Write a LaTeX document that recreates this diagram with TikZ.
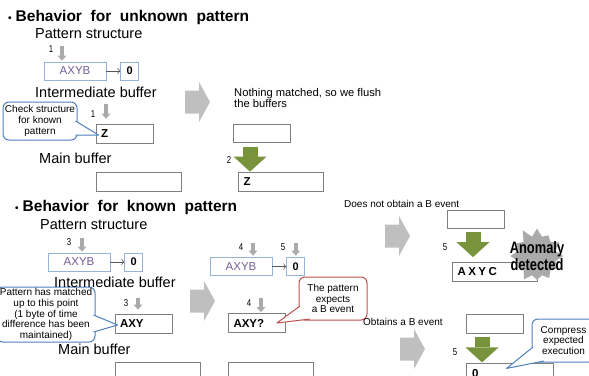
\documentclass[tikz,border=0pt]{standalone}
\usepackage{fontspec}
\setmainfont{Liberation Sans}
\newfontfamily\narrowsans[FakeStretch=0.78]{Liberation Sans}
\newfontfamily\titlesans[WordSpace=2.0]{Liberation Sans}
\usetikzlibrary{arrows.meta, positioning, shapes.symbols}

\definecolor{patblue}{RGB}{149,179,215}
\definecolor{calloutblue}{RGB}{79,129,189}
\definecolor{calloutred}{RGB}{192,80,77}
\definecolor{boxgray}{RGB}{127,127,127}
\definecolor{arrowgray}{RGB}{191,191,191}
\definecolor{ptrgray}{RGB}{170,170,170}
\definecolor{flushgreen}{RGB}{119,147,60}
\definecolor{pattext}{RGB}{112,95,150}
\definecolor{burstgray}{RGB}{170,170,170}

\tikzstyle{heading} = [anchor=west, inner sep=0pt, font=\titlesans\bfseries\fontsize{15.5}{18}\selectfont]
\tikzstyle{bufname} = [anchor=west, inner sep=0pt, font=\fontsize{14.5}{17}\selectfont]
\tikzstyle{note} = [anchor=west, inner sep=0pt, align=left, font=\fontsize{10}{12}\selectfont]
\tikzstyle{stepnum} = [inner sep=0pt, font=\narrowsans\fontsize{10}{10}\selectfont]
\tikzstyle{patbox} = [rectangle, draw=patblue, line width=0.8pt, minimum width=62pt, minimum height=18pt, inner sep=0pt, text=pattext, font=\fontsize{11.5}{12}\selectfont]
\tikzstyle{zerobox} = [rectangle, draw=patblue, line width=0.8pt, minimum width=18pt, minimum height=18pt, inner sep=0pt, font=\bfseries\fontsize{11}{12}\selectfont]
\tikzstyle{bufshort} = [rectangle, draw=boxgray, line width=0.8pt, minimum width=57pt, minimum height=19pt, inner xsep=5pt, inner ysep=0pt, text width=47pt, align=left, font=\bfseries\fontsize{11.5}{12}\selectfont]
\tikzstyle{bufwide} = [bufshort, minimum width=85pt, text width=75pt]
\tikzstyle{callout} = [rectangle, rounded corners=6pt, draw=calloutblue, line width=1pt, fill=white, align=center, inner sep=1pt, font=\fontsize{10}{10.8}\selectfont]
\tikzstyle{pointer} = [line width=4.5pt, draw=ptrgray, -{Triangle[width=9pt,length=5pt,line width=0pt]}]
\tikzstyle{flush} = [line width=15pt, draw=flushgreen, -{Triangle[width=33pt,length=15pt,line width=0pt]}]
\tikzstyle{link} = [draw=black!65, line width=0.6pt, -{To[length=3pt]}]

% pointer of a callout: colour, base, tip, base, inner point
\newcommand{\calloutptr}[5]{\fill[white] #2 -- #3 -- #4 -- #5 -- cycle;
  \draw[#1, line width=1pt, line join=round] #2 -- #3 -- #4;}
% big grey step arrow, given the middle of its left side
\newcommand{\bigarrow}[1]{\fill[arrowgray] #1 ++(0,-11.5) -- ++(14,0) -- ++(0,-8.5)
  -- ++(11,20) -- ++(-11,20) -- ++(0,-8.5) -- ++(-14,0) -- cycle;}

\begin{document}
\begin{tikzpicture}[x=1pt, y=-1pt]
\clip (0,0) rectangle (589,375);
\fill[white] (0,0) rectangle (589,375);

% Behavior for unknown pattern
\node (u-title) [heading] at (8,17) {{\fontsize{10}{10}\selectfont\textbullet}\hspace{4pt}Behavior for unknown pattern};
\node (u-ps-name) [bufname] at (35,34) {Pattern structure};
\node (u-pat) [patbox] at (75,71) {AXYB};
\node (u-zero) [zerobox, right=14pt of u-pat] {0};
\node (u-ib-name) [bufname] at (35,92) {Intermediate buffer};
\node (u-ib) [bufshort] at (124.5,133.5) {Z};
\node (u-mb-name) [bufname] at (39,158) {Main buffer};
\node (u-mb) [bufwide, below=29pt of u-ib.south west, anchor=north west] {};

\node (u-check) [callout, minimum width=74pt, minimum height=38pt] at (40,121) {Check structure\\for known\\pattern};
\calloutptr{calloutblue}{(75.5,121)}{([xshift=3pt,yshift=-1.5pt]u-ib.west)}{(75.5,135)}{(72,128)}

\draw [link] (u-pat) -- (u-zero);
\draw [pointer] ([xshift=-13pt,yshift=16pt]u-pat.north) -- ([xshift=-13pt,yshift=1pt]u-pat.north);
\draw [pointer] ([xshift=-18.5pt,yshift=20pt]u-ib.north) -- ([xshift=-18.5pt,yshift=5pt]u-ib.north);
\node (u-one-a) [stepnum] at (51,49) {1};
\node (u-one-b) [stepnum] at (93,114) {1};

\bigarrow{(185,102)}

% flushed buffers
\node (u-note) [note, font=\fontsize{11.2}{11}\selectfont] at (234,97.5) {Nothing matched, so we flush\\the buffers};
\node (u-ib2) [bufshort, minimum height=18pt] at (262,133.5) {};
\node (u-mb2) [bufwide] at (281,181.5) {Z};
\draw [flush] ([xshift=-12pt,yshift=-4pt]u-ib2.south) -- ([xshift=-31pt]u-mb2.north);
\node (u-two) [stepnum] at (229,160) {2};

% Behavior for known pattern
\node (k-title) [heading] at (15,207) {{\fontsize{10}{10}\selectfont\textbullet}\hspace{4pt}Behavior for known pattern};
\node (k-ps-name) [bufname] at (40,225) {Pattern structure};
\node (k-pat) [patbox] at (79,262) {AXYB};
\node (k-zero) [zerobox, right=14pt of k-pat] {0};
\node (k-match) [callout, minimum width=98pt, minimum height=55pt] at (46,314.5) {Pattern has matched\\up to this point\\(1 byte of time\\difference has been\\maintained)};
\node (k-ib-name) [bufname] at (54,282) {Intermediate buffer};
\node (k-ib) [bufshort] at (143.5,323.5) {AXY};
\node (k-mb-name) [bufname] at (58,349) {Main buffer};
\node (k-mb) [bufwide, below=29pt of k-ib.south west, anchor=north west] {};
\calloutptr{calloutblue}{(93.5,315)}{([xshift=3pt,yshift=-1.5pt]k-ib.west)}{(93.5,332)}{(90,323)}

\draw [link] (k-pat) -- (k-zero);
\draw [pointer] ([xshift=3pt,yshift=15pt]k-pat.north) -- ([xshift=3pt,yshift=1pt]k-pat.north);
\draw [pointer] ([xshift=-5.5pt,yshift=16pt]k-ib.north) -- ([xshift=-5.5pt,yshift=4pt]k-ib.north);
\node (k-three-a) [stepnum] at (69,242) {3};
\node (k-three-b) [stepnum] at (126,303) {3};

\bigarrow{(190,301)}

% waiting for B
\node (k-pat2) [patbox] at (241,266.5) {AXYB};
\node (k-zero2) [zerobox, right=14pt of k-pat2] {0};
\node (k-ib2) [bufshort] at (257,323) {AXY?};
\node (k-mb2) [bufwide, below=29pt of k-ib2.south west, anchor=north west] {};
\draw [link] (k-pat2) -- (k-zero2);
\draw [pointer] ([xshift=12pt,yshift=14.5pt]k-pat2.north) -- ([xshift=12pt,yshift=1.5pt]k-pat2.north);
\draw [pointer] ([yshift=14.5pt]k-zero2.north) -- ([yshift=1.5pt]k-zero2.north);
\draw [pointer] ([xshift=4pt,yshift=15pt]k-ib2.north) -- ([xshift=4pt,yshift=1pt]k-ib2.north);
\node (k-four-a) [stepnum] at (241,247) {4};
\node (k-five-a) [stepnum] at (283,247) {5};
\node (k-four-b) [stepnum] at (249,303) {4};
\node (k-expect) [callout, draw=calloutred, minimum width=68pt, minimum height=43pt] at (333,298.5) {The pattern\\expects\\a B event};
\calloutptr{calloutred}{(300,306)}{([xshift=-9pt]k-ib2.east)}{(310,319)}{(306,312)}

% no B event
\node (k-no-name) [note] at (344,204) {Does not obtain a B event};
\bigarrow{(385,236)}
\node (k-nib) [bufshort, minimum height=18pt] at (476,219) {};
\node (k-nmb) [bufwide, minimum width=84pt] at (495,272) {A\kern2.5pt X\kern2.5pt Y\kern2.5pt C};
\draw [flush] ([xshift=-3pt,yshift=-4pt]k-nib.south) -- ([xshift=-22pt,yshift=5pt]k-nmb.north);
\node (k-five-b) [stepnum] at (445,247) {5};
\node (burst) [starburst, fill=burstgray, draw=none, minimum width=58pt, minimum height=60pt, starburst points=12, starburst point height=10pt, random starburst=11, inner sep=0pt] at (537,256) {};
\node (anomaly) [align=center, inner sep=0pt, font=\narrowsans\bfseries\fontsize{16.5}{15}\selectfont] at (537,256) {Anomaly\\detected};

% B event
\node (k-ok-name) [note] at (363,322) {Obtains a B event};
\bigarrow{(400,349)}
\node (k-oib) [bufshort] at (494.5,323.5) {};
\node (k-omb) [bufwide, minimum width=87pt, below=30pt of k-oib.south west, anchor=north west] {0};
\draw [flush] ([xshift=-12.5pt,yshift=-4pt]k-oib.south) -- ([xshift=-27.5pt,yshift=1pt]k-omb.north);
\node (k-five-c) [stepnum] at (455,352) {5};
\node (k-compress) [callout, minimum width=63pt, minimum height=43pt] at (563.5,340.5) {Compress\\expected\\execution};
\calloutptr{calloutblue}{(533,347)}{([xshift=41pt,yshift=-5pt]k-omb.north west)}{(544,361)}{(540,354)}

\end{tikzpicture}
\end{document}
